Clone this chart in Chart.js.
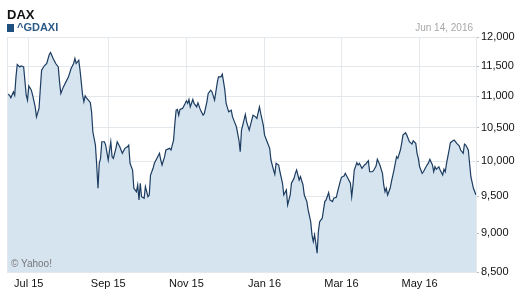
<!DOCTYPE html>
<html>
<head>
<meta charset="utf-8">
<script src="https://cdn.jsdelivr.net/npm/chart.js@4.4.0/dist/chart.umd.min.js"></script>
<style>
  body { margin: 0; background: #fff; }
  #wrap { position: relative; width: 518px; height: 290px; font-family: 'Liberation Sans', Arial, sans-serif; }
  #chart { position: absolute; left: 0; top: 0; }
  .txt { position: absolute; white-space: nowrap; }
  #title { left: 7px; top: 8px; font-size: 13px; line-height: 13px; font-weight: bold; color: #111; }
  #legend { left: 7px; top: 22px; font-size: 11px; line-height: 11px; font-weight: bold; color: #2c5a88; }
  #legend span { display: inline-block; width: 7px; height: 8px; background: #1f4f7f; margin-right: 3px; vertical-align: -1px; }
  #date { right: 45px; top: 23px; font-size: 10px; line-height: 10px; color: #a8a8a8; }
  #credit { left: 11px; top: 259px; font-size: 10px; line-height: 10px; color: #777; }
</style>
</head>
<body>
<div id="wrap">
  <canvas id="chart" width="518" height="290"></canvas>
  <div class="txt" id="title">DAX</div>
  <div class="txt" id="legend"><span></span>^GDAXI</div>
  <div class="txt" id="date">Jun 14, 2016</div>
  <div class="txt" id="credit">© Yahoo!</div>
</div>
<script>
// days counted from Jun 14, 2015 (last day = Jun 14, 2016)
const days = [
  0, 1, 2, 3, 5, 6, 7, 8, 10, 11, 13, 15, 16, 17, 19, 20, 22, 23, 25, 26,
  27, 29, 31, 33, 34, 36, 38, 40, 41, 42, 44, 46, 48, 50, 52, 53, 54, 56, 57, 59,
  60, 61, 62, 65, 66, 67, 69, 70, 71, 72, 73, 74, 76, 77, 79, 81, 82, 83, 85, 86,
  88, 90, 92, 94, 95, 96, 98, 99, 101, 102, 103, 104, 105, 107, 108, 110, 111, 112, 114, 115,
  117, 119, 120, 121, 123, 124, 127, 128, 130, 131, 132, 133, 134, 135, 137, 139, 140, 141, 142, 143,
  145, 146, 148, 149, 151, 153, 154, 156, 157, 159, 160, 162, 164, 165, 167, 168, 169, 170, 171, 173,
  175, 176, 178, 179, 181, 182, 183, 184, 186, 187, 189, 191, 192, 194, 195, 197, 198, 200, 201, 203,
  205, 206, 208, 209, 210, 212, 213, 215, 216, 218, 219, 221, 222, 224, 225, 226, 228, 229, 231, 232,
  234, 235, 237, 238, 239, 240, 241, 242, 243, 244, 246, 247, 248, 249, 251, 252, 254, 255, 257, 258,
  260, 261, 263, 264, 266, 268, 269, 270, 271, 273, 274, 275, 277, 279, 280, 282, 283, 285, 286, 288,
  289, 291, 293, 294, 295, 296, 297, 299, 300, 302, 304, 305, 307, 308, 309, 311, 312, 314, 316, 317,
  319, 320, 321, 322, 324, 325, 327, 329, 330, 332, 333, 334, 335, 337, 338, 340, 341, 342, 343, 345,
  346, 348, 349, 351, 353, 354, 356, 357, 358, 360, 361, 362, 364, 366
]

const closes = [
  11046, 11029, 11018, 10975, 11071, 11018, 11318, 11525, 11484, 11500, 11484, 11018, 10938, 11170, 11099, 11018, 10831, 10673, 10806, 11127,
  11429, 11500, 11542, 11695, 11729, 11627, 11542, 11484, 11235, 11046, 11153, 11235, 11318, 11457, 11542, 11627, 11542, 11598, 11429, 11018,
  10911, 11007, 10975, 10901, 10752, 10442, 10240, 9945, 9611, 9970, 10043, 10290, 10290, 10240, 10018, 10290, 10067, 10043, 10191, 10290,
  10215, 10117, 10191, 10215, 10240, 9970, 9872, 9611, 9563, 9658, 9448, 9682, 9493, 9471, 9634, 9493, 9517, 9800, 9897, 9970,
  10043, 10117, 10018, 9945, 10067, 10166, 10191, 10166, 10316, 10571, 10779, 10790, 10700, 10790, 10806, 10885, 10927, 10885, 10949, 10831,
  10949, 10885, 10831, 10895, 10779, 10700, 10727, 10911, 11046, 11099, 11071, 10938, 11209, 11318, 11318, 11363, 11235, 11099, 10885, 10752,
  10779, 10673, 10571, 10519, 10316, 10141, 10468, 10545, 10711, 10595, 10468, 10622, 10700, 10673, 10648, 10831, 10727, 10545, 10391, 10290,
  10191, 10018, 9872, 9810, 9970, 9945, 9847, 9682, 9517, 9587, 9379, 9517, 9682, 9753, 9824, 9872, 9729, 9776, 9658, 9517,
  9425, 9311, 9152, 8976, 8889, 8976, 8867, 8739, 9020, 9152, 9198, 9311, 9425, 9448, 9549, 9448, 9425, 9471, 9485, 9563,
  9705, 9767, 9786, 9824, 9753, 9682, 9493, 9658, 9872, 9979, 9945, 9970, 9897, 9945, 9960, 10008, 9847, 9847, 9862, 9930,
  10028, 9945, 9824, 9658, 9563, 9611, 9517, 9611, 9705, 9872, 10067, 10043, 10166, 10266, 10391, 10427, 10391, 10290, 10255, 10305,
  10266, 10117, 10043, 9920, 9824, 9847, 9920, 9979, 10028, 9945, 9847, 9920, 9882, 9920, 9872, 9800, 9882, 9847, 9970, 10166,
  10276, 10305, 10316, 10266, 10225, 10166, 10117, 10255, 10240, 10166, 9970, 9776, 9611, 9517
]

// first day of the labelled months, same day count
const monthDays = [17, 79, 140, 201, 261, 322]
const monthLabels = ['Jul 15', 'Sep 15', 'Nov 15', 'Jan 16', 'Mar 16', 'May 16']

const yTicks = [8500, 9000, 9500, 10000, 10500, 11000, 11500, 12000]
const totalDays = 366

const gridColor = 'rgba(226, 231, 236, 0.95)'

const edgeLine = {
  id: 'edgeLine',
  afterDraw: (chart) => {
    const a = chart.chartArea
    const ctx = chart.ctx
    ctx.save()
    ctx.strokeStyle = gridColor
    ctx.lineWidth = 1
    ctx.beginPath()
    ctx.moveTo(Math.round(a.left) + 0.5, a.top)
    ctx.lineTo(Math.round(a.left) + 0.5, a.bottom)
    ctx.stroke()
    ctx.restore()
  }
}

Chart.defaults.font.family = "'Liberation Sans', Arial, sans-serif"
Chart.defaults.font.size = 11
Chart.defaults.color = '#222'

const data = {
  datasets: [{
    label: '^GDAXI',
    data: days.map((d, i) => ({ x: d, y: closes[i] })),
    borderColor: 'rgb(28, 60, 96)',
    borderWidth: 1.2,
    backgroundColor: 'rgb(214, 228, 240)',
    fill: 'start',
    pointRadius: 0,
    tension: 0
  }]
}

const config = {
  type: 'line',
  data: data,
  options: {
    responsive: false,
    animation: false,
    layout: { padding: { left: 7, top: 37, right: 0, bottom: 0 } },
    plugins: {
      legend: { display: false },
      title: { display: false },
      tooltip: { enabled: false }
    },
    scales: {
      x: {
        type: 'linear',
        min: 0,
        max: totalDays,
        z: 1,
        afterBuildTicks: (scale) => {
          scale.ticks = monthDays.map(v => ({ value: v }))
        },
        afterFit: (scale) => { scale.height = 18 },
        grid: { color: gridColor, drawTicks: false },
        border: { display: false },
        ticks: {
          autoSkip: false,
          maxRotation: 0,
          padding: 5,
          color: '#111',
          callback: (v) => monthLabels[monthDays.indexOf(v)]
        }
      },
      y: {
        type: 'logarithmic',
        position: 'right',
        min: 8500,
        max: 12000,
        z: 1,
        afterBuildTicks: (scale) => {
          scale.ticks = yTicks.map(v => ({ value: v }))
        },
        afterFit: (scale) => { scale.width = 42 },
        grid: { color: gridColor, tickLength: 3, tickColor: '#bbb' },
        border: { display: true, color: gridColor },
        ticks: {
          padding: 2,
          color: '#111',
          callback: (v) => v.toLocaleString('en-US')
        }
      }
    }
  },
  plugins: [edgeLine]
}

const thechart = document.getElementById('chart').getContext('2d')
const mychart = new Chart(thechart, config)
</script>
</body>
</html>
